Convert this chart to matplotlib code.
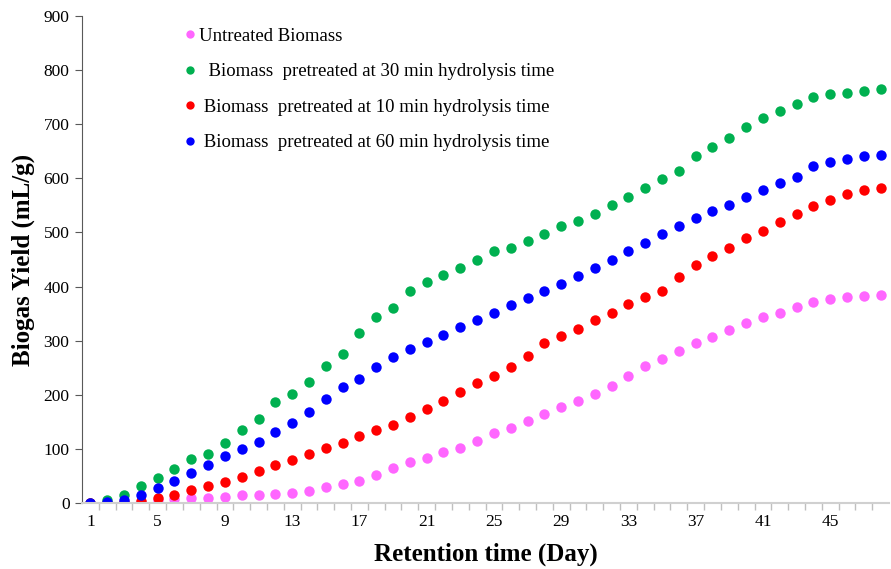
import matplotlib.pyplot as plt
import numpy as np

plt.rcParams['font.family'] = ['Liberation Serif', 'DejaVu Serif']

dias = np.arange(1, 49)

untreated = [0, 0, 0, 2, 5, 7, 9, 10, 12, 14, 15, 17, 18, 23, 29, 35, 41, 52, 65, 76,
             84, 95, 101, 115, 129, 139, 152, 164, 177, 189, 201, 216, 235, 253, 267, 281,
             295, 307, 319, 332, 344, 352, 363, 371, 377, 380, 382, 385]
min30 = [0, 5, 15, 31, 47, 62, 81, 90, 111, 135, 155, 187, 201, 224, 254, 275, 315, 344,
         360, 392, 409, 421, 435, 449, 465, 471, 485, 498, 511, 521, 534, 551, 566, 582,
         599, 614, 641, 657, 675, 695, 711, 724, 738, 751, 755, 758, 761, 765]
min10 = [0, 0, 2, 4, 9, 15, 24, 31, 39, 48, 60, 71, 79, 91, 102, 111, 124, 135, 145, 159,
         173, 189, 205, 222, 235, 252, 272, 295, 309, 322, 339, 351, 367, 381, 391, 418,
         439, 456, 471, 489, 503, 519, 534, 548, 560, 571, 579, 582]
min60 = [0, 2, 5, 15, 27, 41, 55, 70, 86, 99, 113, 131, 148, 169, 192, 214, 230, 251, 269,
         284, 297, 310, 325, 339, 352, 365, 379, 392, 405, 420, 434, 450, 466, 481, 497,
         512, 527, 539, 551, 565, 578, 591, 602, 622, 630, 636, 641, 644]

etiquetas = ['Untreated Biomass',
             '  Biomass  pretreated at 30 min hydrolysis time',
             ' Biomass  pretreated at 10 min hydrolysis time',
             ' Biomass  pretreated at 60 min hydrolysis time']
colores = ['#FF66FF', '#00B050', '#FF0000', '#0000FF']

fig = plt.figure(figsize=(8.91, 5.69), dpi=100)
ax = fig.add_axes([82/891, 66/569, 807/891, 487/569])

for serie, lab, col in zip([untreated, min30, min10, min60], etiquetas, colores):
    ax.plot(dias, serie, 'o', color=col, ms=7.5, mec='none', label=lab)

ax.set_xlim(0.5, 48.5)
ax.set_ylim(0, 900)
ax.set_yticks(np.arange(0, 901, 100))
ax.set_xticks(np.arange(1, 48, 4))
ax.set_xticks(np.arange(1.5, 48.5, 1), minor=True)
ax.tick_params(axis='x', which='major', length=0, labelsize=12.5, pad=8)
ax.tick_params(axis='x', which='minor', length=5, color='#BFBFBF', width=1)
ax.tick_params(axis='y', length=5, color='#595959', labelsize=12.5, pad=4)

for s in ['top', 'right']:
    ax.spines[s].set_visible(False)
ax.spines['left'].set_color('#595959')
ax.spines['bottom'].set_color('#D0D0D0')
ax.spines['bottom'].set_linewidth(1.5)

ax.set_xlabel('Retention time (Day)', fontsize=18, fontweight='bold', labelpad=9)
ax.set_ylabel('Biogas Yield (mL/g)', fontsize=18, fontweight='bold', labelpad=6)

ax.legend(loc='upper left', bbox_to_anchor=(177/891, 1 - 20/569), bbox_transform=fig.transFigure,
          frameon=False, fontsize=13.5, markerscale=0.8, handlelength=0.6, handletextpad=0.18,
          labelspacing=0.98, borderaxespad=0)

fig.savefig('out.png', dpi=100)
